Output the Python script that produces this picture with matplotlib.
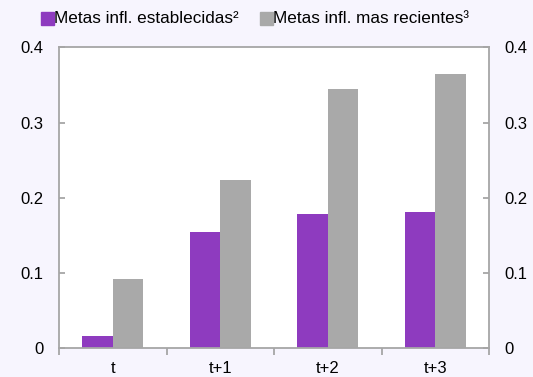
import matplotlib
matplotlib.use("Agg")
import matplotlib.pyplot as plt
from matplotlib.patches import Rectangle

categories = ["t", "t+1", "t+2", "t+3"]
metas_establecidas = [0.017, 0.155, 0.179, 0.181]
metas_recientes = [0.092, 0.224, 0.344, 0.364]
series_labels = ["Metas infl. establecidas²", "Metas infl. mas recientes³"]
y_ticks = [0, 0.1, 0.2, 0.3, 0.4]
y_ticklabels = ["0", "0.1", "0.2", "0.3", "0.4"]

purple = "#8E3BBF"
gray = "#A9A9A9"
spine_color = "#A6A6A6"
bg = "#F7F5FE"

plt.rcParams["font.family"] = ["Liberation Sans", "DejaVu Sans"]
plt.rcParams["font.size"] = 12

fig = plt.figure(figsize=(5.33, 3.77), dpi=100, facecolor=bg)
ax = fig.add_axes([0.1107, 0.0756, 0.8068, 0.7989])
ax.set_facecolor("white")

x = list(range(len(categories)))
w = 0.285
ax.bar([i - w / 2 for i in x], metas_establecidas, width=w, color=purple, zorder=2)
ax.bar([i + w / 2 for i in x], metas_recientes, width=w, color=gray, zorder=2)

ax.set_xlim(-0.5, len(categories) - 0.5)
ax.set_ylim(0, 0.4)

# category labels centred, tick marks at category boundaries
ax.set_xticks(x)
ax.set_xticklabels(categories)
ax.set_xticks([i - 0.5 for i in range(len(categories) + 1)], minor=True)
ax.tick_params(axis="x", which="major", length=0, pad=9, colors="black", labelsize=12)
ax.tick_params(axis="x", which="minor", length=5, width=1.3, color=spine_color, direction="out")

ax.set_yticks(y_ticks)
ax.set_yticklabels(y_ticklabels)
ax.tick_params(axis="y", which="major", direction="in", length=4, width=1.3,
               color=spine_color, pad=11, left=True, right=True,
               labelleft=True, labelright=True, labelsize=12)

for s in ax.spines.values():
    s.set_color(spine_color)
    s.set_linewidth(1.3)

# legend row across the top
fig_w, fig_h = 533, 377
items = [(41, purple, series_labels[0]), (260, gray, series_labels[1])]
for px, col, lab in items:
    fig.patches.append(Rectangle((px / fig_w, 1 - 25 / fig_h), 13 / fig_w, 13 / fig_h,
                                 transform=fig.transFigure, color=col))
    fig.text((px + 13) / fig_w, 1 - 18.5 / fig_h, lab, ha="left", va="center",
             fontsize=12.3)

fig.savefig("out.png", dpi=100, facecolor=bg)
